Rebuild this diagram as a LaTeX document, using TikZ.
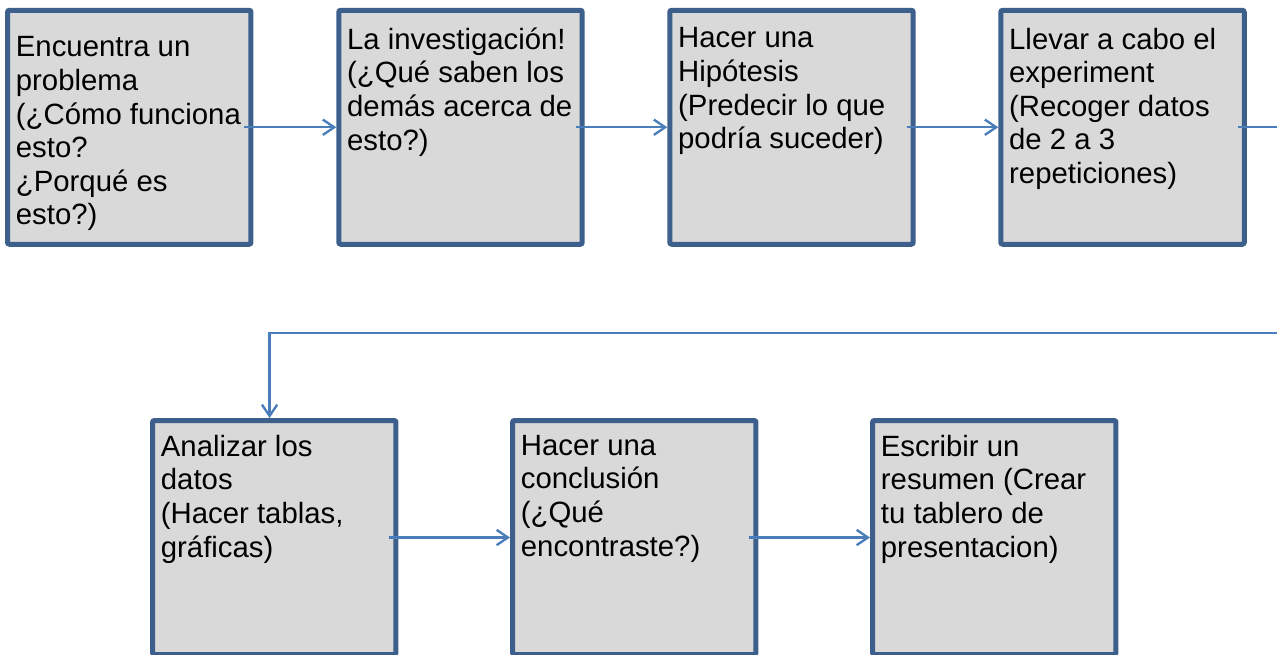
\documentclass[tikz,border=0pt]{standalone}
\usepackage{fontspec}
\setmainfont{Liberation Sans}
\usetikzlibrary{arrows.meta}
\definecolor{bordepaso}{HTML}{3C5F8C}
\definecolor{fondopaso}{HTML}{D9D9D9}
\definecolor{azulflecha}{HTML}{4A7EBB}
\newcommand{\textopaso}[2][4.4pt]{\parbox[c][158pt][t]{170pt}{\raggedright\vspace*{#1}#2}}
\tikzset{
    paso/.style={draw=bordepaso, fill=fondopaso, line width=3.75pt, rounded corners=1.5pt,
        minimum width=182.6pt, minimum height=175.5pt, inner sep=0pt,
        font=\fontsize{22pt}{25.2pt}\selectfont},
    flecha/.style={draw=azulflecha, line width=1.75pt, -{Straight Barb[length=8.5pt,width=11.5pt]}}
}
\begin{document}
\begin{tikzpicture}[x=0.75pt,y=-0.75pt]
            \useasboundingbox (0,0) rectangle (1277,654);
            \clip (0,0) rectangle (1277,654);

            \node[paso] (p1) at (129.25,127.25) {\textopaso[11.1pt]{Encuentra un\\ problema\\ (¿Cómo funciona\\ esto?\\ ¿Porqué es\\ esto?)}};
            \node[paso] (p2) at (460.5,127.25) {\textopaso{La investigación!\\ (¿Qué saben los\\ demás acerca de\\ esto?)}};
            \node[paso] (p3) at (791.5,127.25) {\textopaso{Hacer una\\ Hipótesis\\ (Predecir lo que\\ podría suceder)}};
            \node[paso] (p4) at (1122.5,127.25) {\textopaso{Llevar a cabo el\\ experiment\\ (Recoger datos\\ de 2 a 3\\ repeticiones)}};

            \node[paso] (p5) at (274.25,537.5) {\textopaso[2.2pt]{Analizar los\\ datos\\ (Hacer tablas,\\ gráficas)}};
            \node[paso] (p6) at (634.25,537.5) {\textopaso[2.2pt]{Hacer una\\ conclusión\\ (¿Qué\\ encontraste?)}};
            \node[paso] (p7) at (994.25,537.5) {\textopaso[2.2pt]{Escribir un\\ resumen (Crear\\ tu tablero de\\ presentacion)}};

            \coordinate (giro) at (1300,333);

            \draw[flecha] ([xshift=-6.75pt]p1.east) -- (p2.west);
            \draw[flecha] ([xshift=-6.75pt]p2.east) -- (p3.west);
            \draw[flecha] ([xshift=-6.75pt]p3.east) -- (p4.west);
            \draw[flecha] ([xshift=-6.75pt]p4.east) -| (giro) -| ([xshift=-3.5pt]p5.north);
            \draw[flecha] ([xshift=-6.75pt]p5.east) -- (p6.west);
            \draw[flecha] ([xshift=-6.75pt]p6.east) -- (p7.west);
        \end{tikzpicture}
\end{document}
